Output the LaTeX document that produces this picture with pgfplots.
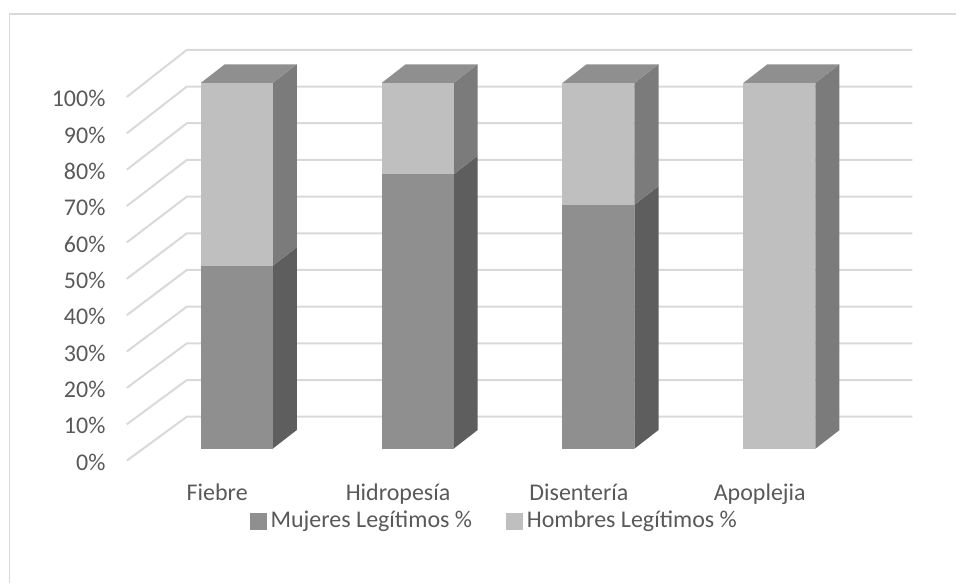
\documentclass[border=0pt]{standalone}
\usepackage{fontspec}
\setmainfont{Carlito}
\usepackage{pgfplots}
\pgfplotsset{compat=1.18}
\definecolor{textgray}{HTML}{595959}
\definecolor{gridc}{HTML}{D9D9D9}
\definecolor{mfront}{HTML}{8F8F8F}
\definecolor{mside}{HTML}{5E5E5E}
\definecolor{hfront}{HTML}{BFBFBF}
\definecolor{hside}{HTML}{7B7B7B}
\definecolor{topc}{HTML}{8F8F8F}
% one segment of a 3D bar: #1 x, #2 bottom, #3 top, #4 front colour, #5 side colour
\newcommand\segment[5]{%
  \pgfmathsetmacro\xa{#1-0.199}%
  \pgfmathsetmacro\xb{#1+0.199}%
  \pgfmathsetmacro\xc{#1+0.332}%
  \pgfmathsetmacro\ya{#2+5.1}%
  \pgfmathsetmacro\yb{#3+5.1}%
  \addplot[fill=#5, draw=none, forget plot] coordinates {(\xb,#2) (\xc,\ya) (\xc,\yb) (\xb,#3)} -- cycle;
  \addplot[fill=#4, draw=none, forget plot] coordinates {(\xa,#2) (\xb,#2) (\xb,#3) (\xa,#3)} -- cycle;
}
% bar: #1 x, #2 mujeres, #3 hombres
\newcommand\cbar[3]{%
  \segment{#1}{0}{#2}{mfront}{mside}%
  \pgfmathsetmacro\tot{#2+#3}%
  \segment{#1}{#2}{\tot}{hfront}{hside}%
  \pgfmathsetmacro\tot{#2+#3}%
  \pgfmathsetmacro\xa{#1-0.199}%
  \pgfmathsetmacro\xb{#1+0.199}%
  \pgfmathsetmacro\xc{#1+0.332}%
  \pgfmathsetmacro\xd{#1-0.066}%
  \pgfmathsetmacro\yb{\tot+5.1}%
  \addplot[fill=topc, draw=none, forget plot] coordinates {(\xa,\tot) (\xb,\tot) (\xc,\yb) (\xd,\yb)} -- cycle;
}
\begin{document}
\fontsize{12}{14.4}\selectfont
\begin{tikzpicture}
\begin{axis}[
  x=90.5pt, y=1.83pt,
  xmin=-1.309, xmax=3.978, ymin=-36.61, ymax=122.68,
  hide axis, clip=false,
  legend style={at={(axis cs:1.43,-19.9)}, anchor=center, draw=none, fill=none,
    legend columns=2, font=\fontsize{12}{14.4}\selectfont, text=textgray,
    /tikz/every even column/.append style={column sep=15pt}},
  legend image code/.code={\fill[#1] (0pt,-4pt) rectangle (8pt,4pt);},
]
% full picture extent
\path (axis cs:-1.309,-36.61) rectangle (axis cs:3.978,122.68);
% chart border (top and left)
\draw[gridc, line width=0.8pt] (axis cs:-1.257,-36.61) -- (axis cs:-1.257,118.85) -- (axis cs:3.978,118.85);
% gridlines: side wall diagonals and back wall
\pgfplotsinvokeforeach{0,...,10}{
  \draw[gridc, line width=1pt] (axis cs:-0.608,{-3.28+9.945*#1}) -- (axis cs:-0.276,{8.74+10.03*#1}) -- (axis cs:3.735,{8.74+10.03*#1});
}
% y tick labels
\foreach \k/\lab in {0/0,1/10,2/20,3/30,4/40,5/50,6/60,7/70,8/80,9/90,10/100}{
  \edef\temp{\noexpand\node[anchor=base east, text=textgray, inner sep=0pt] at (axis cs:-0.724,{-3.28+9.945*\k-2.65}) {\lab\noexpand\%};}
  \temp
}
% bars: Mujeres, Hombres
\cbar{0}{50}{50}
\cbar{1}{75}{25}
\cbar{2}{66.7}{33.3}
\cbar{3}{0}{100}
% category labels
\node[anchor=base, text=textgray, inner sep=0pt] at (axis cs:-0.108,-14.2) {Fiebre};
\node[anchor=base, text=textgray, inner sep=0pt] at (axis cs:0.892,-14.2) {Hidropesía};
\node[anchor=base, text=textgray, inner sep=0pt] at (axis cs:1.892,-14.2) {Disentería};
\node[anchor=base, text=textgray, inner sep=0pt] at (axis cs:2.892,-14.2) {Apoplejia};
% legend
\addlegendimage{mfront}
\addlegendentry{Mujeres Legítimos \%}
\addlegendimage{hfront}
\addlegendentry{Hombres Legítimos \%}
\end{axis}
\end{tikzpicture}
\end{document}
